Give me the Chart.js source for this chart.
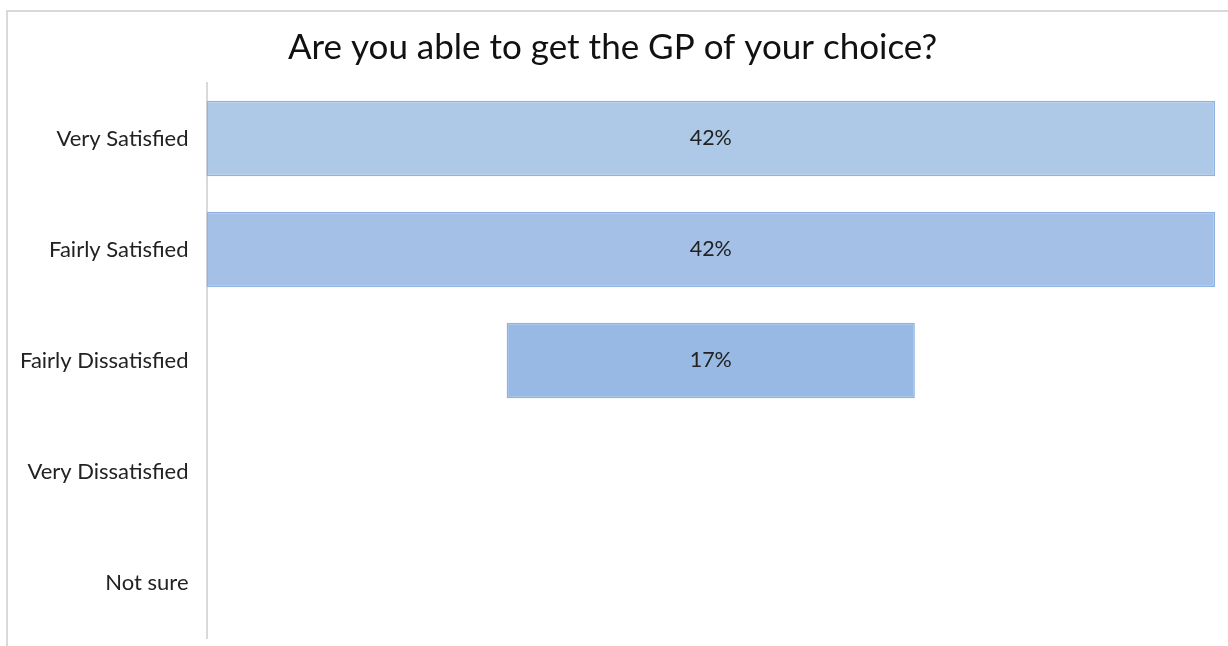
<!DOCTYPE html>
<html>
<head>
<meta charset="utf-8">
<script src="https://cdn.jsdelivr.net/npm/chart.js@4"></script>
<style>
  html, body { margin: 0; padding: 0; background: #fff; }
  #wrap { position: relative; width: 1228px; height: 646px; }
  #frame { position: absolute; left: 6px; top: 10px; right: 0; bottom: 0; border-top: 2px solid #d9d9d9; border-left: 2px solid #d9d9d9; }
  canvas { position: absolute; left: 0; top: 0; }
</style>
</head>
<body>
<div id="wrap">
  <div id="frame"></div>
  <canvas id="c" width="1228" height="646"></canvas>
</div>
<script>
const categories = ["Very Satisfied", "Fairly Satisfied", "Fairly Dissatisfied", "Very Dissatisfied", "Not sure"];
const values = [42, 42, 17, 0, 0];
const valueLabels = ["42%", "42%", "17%", "", ""];
const barColors = ["#aec8e8", "#a4c0e6", "#97b9e3", "#93b5e1", "#93b5e1"];

const maxVal = Math.max(...values);
const spans = values.map(v => v > 0 ? [-v / 2, v / 2] : null);
const FONT = 'Lato, Carlito, Calibri, sans-serif';

const labelPlugin = {
  id: 'centerLabels',
  afterDatasetsDraw(chart) {
    const ctx = chart.ctx;
    const meta = chart.getDatasetMeta(0);
    ctx.save();
    ctx.font = '21.5px ' + FONT;
    ctx.fillStyle = '#222';
    ctx.textAlign = 'center';
    ctx.textBaseline = 'middle';
    meta.data.forEach((bar, i) => {
      if (!valueLabels[i]) return;
      const cx = (bar.x + bar.base) / 2;
      ctx.fillText(valueLabels[i], cx, bar.y);
    });
    ctx.restore();
  }
};

new Chart(document.getElementById('c'), {
  type: 'bar',
  data: {
    labels: categories,
    datasets: [{
      data: spans,
      backgroundColor: barColors,
      borderColor: '#8fb3e0',
      borderWidth: 1.5,
      borderSkipped: false,
      categoryPercentage: 0.68,
      barPercentage: 1.0
    }]
  },
  options: {
    responsive: false,
    animation: false,
    indexAxis: 'y',
    layout: { padding: { left: 10, right: 13, top: 0, bottom: 8 } },
    plugins: {
      legend: { display: false },
      tooltip: { enabled: false },
      title: {
        display: true,
        text: "Are you able to get the GP of your choice?",
        color: '#111',
        font: { family: FONT, size: 35, weight: 'normal' },
        padding: { top: 27, bottom: 14 }
      }
    },
    scales: {
      x: {
        min: -maxVal / 2,
        max: maxVal / 2,
        display: false
      },
      y: {
        grid: { display: false },
        border: { display: true, color: '#d9d9d9', width: 2 },
        ticks: {
          color: '#222',
          padding: 10,
          font: { family: FONT, size: 22 }
        },
        afterFit(scale) {
          scale.paddingTop = 0;
          scale.paddingBottom = 0;
        }
      }
    }
  },
  plugins: [labelPlugin]
});
</script>
</body>
</html>
